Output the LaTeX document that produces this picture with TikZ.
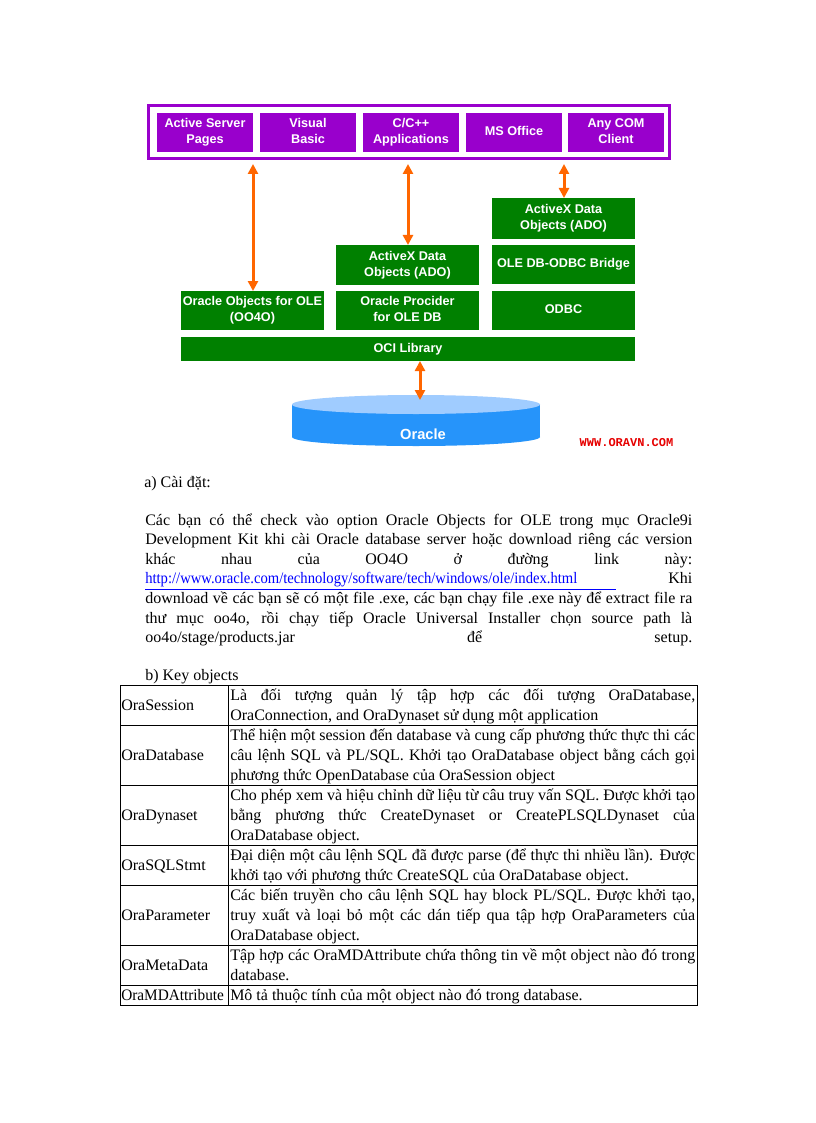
\documentclass[tikz,border=0pt]{standalone}
\usepackage{fontspec}
\setmainfont{Liberation Serif}
\newfontfamily\arialfont{Liberation Sans}
\newfontfamily\courfont{Liberation Mono}
\usetikzlibrary{arrows.meta}
\definecolor{purpC}{RGB}{153,0,204}
\definecolor{greenC}{RGB}{0,128,0}
\definecolor{orangeC}{RGB}{255,102,0}
\definecolor{dbtopC}{RGB}{160,204,255}
\definecolor{dbbodyC}{RGB}{38,148,250}
\definecolor{linkC}{RGB}{0,0,255}
\definecolor{wwwC}{RGB}{230,0,0}
\newcommand{\myjp}[1]{\makebox[410.25pt][s]{#1}}
\newcommand{\myjl}[1]{\makebox[348.75pt][s]{#1}}
\begin{document}
\begin{tikzpicture}[x=0.75pt,y=-0.75pt,
  diagbox/.style={inner sep=0pt, outer sep=0pt, text=white, align=center,
    font=\arialfont\bfseries\fontsize{9.5}{12}\selectfont},
  pbox/.style={diagbox, fill=purpC, minimum width=72pt, minimum height=29.25pt},
  gbox/.style={diagbox, fill=greenC, minimum width=107.25pt, minimum height=29.25pt},
  dbl/.style={draw=orangeC, line width=2.25pt,
    {Triangle[width=7.5pt,length=7.5pt]}-{Triangle[width=7.5pt,length=7.5pt]}},
  txt/.style={anchor=base west, inner sep=0pt, font=\fontsize{12}{14}\selectfont},
  tabline/.style={draw=black, line width=0.75pt}
]
\useasboundingbox[fill=white] (0,0) rectangle (816,1123);

% client layer
\node[draw=purpC, line width=2.25pt, inner sep=0pt, outer sep=0pt,
      minimum width=390.75pt, minimum height=39.75pt] (clients) at (409,132) {};
\node[pbox] (asp) at (205,132.5) {\strut Active Server\\\strut Pages};
\node[pbox] (vb)  at (308,132.5) {\strut Visual\\\strut Basic};
\node[pbox] (cpp) at (411,132.5) {\strut C/C++\\\strut Applications};
\node[pbox] (mso) at (514,132.5) {\strut MS Office};
\node[pbox] (com) at (616,132.5) {\strut Any COM\\\strut Client};

% middleware
\node[gbox, minimum height=30.75pt] (adoR) at (563.5,218.5) {\strut ActiveX Data\\\strut Objects (ADO)};
\node[gbox] (bridge) at (563.5,264.5) {\strut OLE DB-ODBC Bridge};
\node[gbox] (odbc)   at (563.5,310.5) {\strut ODBC};
\node[gbox, minimum height=30pt] (adoM) at (407.5,265) {\strut ActiveX Data\\\strut Objects (ADO)};
\node[gbox] (prov)   at (407.5,310.5) {\strut Oracle Procider\\\strut for OLE DB};
\node[gbox] (oo4o)   at (252.5,310.5) {\strut Oracle Objects for OLE\\\strut (OO4O)};
\node[gbox, minimum width=340.5pt, minimum height=18pt] (oci) at (408,349) {\strut OCI Library};

% database cylinder
\fill[dbbodyC] (416,437) ellipse [x radius=124, y radius=9];
\fill[dbbodyC] (292,404.5) rectangle (540,437);
\fill[dbtopC] (416,404.5) ellipse [x radius=124, y radius=9.5];
\node[inner sep=0pt, text=white, font=\arialfont\bfseries\fontsize{11}{13}\selectfont] (db) at (423,434) {Oracle};
\node[inner sep=0pt, text=wwwC, font=\courfont\bfseries\fontsize{9}{10}\selectfont] (www) at (626.5,443) {WWW.ORAVN.COM};

% arrows
\coordinate (c1) at (253,164);
\coordinate (c2) at (408,164);
\coordinate (c3) at (564,164);
\coordinate (c4) at (420,400);
\draw[dbl] (c1) -- (c1 |- oo4o.north);
\draw[dbl] (c2) -- (c2 |- adoM.north);
\draw[dbl] (c3) -- (c3 |- adoR.north);
\draw[dbl] (c4 |- oci.south) -- (c4);

% text
\node[txt] (ha) at (144,487) {a) Cài đặt:};
\node[txt] (p1) at (145,525) {\myjp{Các bạn có thể check vào option Oracle Objects for OLE trong mục Oracle9i}};
\node[txt] (p2) at (145,544.6) {\myjp{Development  Kit khi cài Oracle database server hoặc download riêng các version}};
\node[txt] (p3) at (145,564.2) {\myjp{khác nhau của OO4O ở đường link này:}};
\node[txt] (p4) at (145,583.8) {\myjp{{\color{linkC}\underline{\scalebox{0.915}[1]{http://www.oracle.com/technology/software/tech/windows/ole/index.html}\hspace{29pt}}} Khi}};
\node[txt] (p5) at (145,603.4) {\myjp{download về các bạn sẽ có một file .exe, các bạn chạy file .exe này để extract file ra}};
\node[txt] (p6) at (145,623) {\myjp{thư mục oo4o, rồi chạy tiếp Oracle Universal Installer chọn source path là}};
\node[txt] (p7) at (145,642.6) {\myjp{oo4o/stage/products.jar để setup.}};

\node[txt] (hb) at (145,680) {b) Key objects};

% table
\draw[tabline] (120,685) rectangle (697,1005);
\draw[tabline] (228,685) -- (228,1005);
\foreach \yy in {725,785,845,885,945,985} \draw[tabline] (120,\yy) -- (697,\yy);

\node[txt] (k1) at (121,710.5) {OraSession};
\node[txt] (k2) at (121,760.5) {OraDatabase};
\node[txt] (k3) at (121,820.5) {OraDynaset};
\node[txt] (k4) at (121,870.5) {OraSQLStmt};
\node[txt] (k5) at (121,920.5) {OraParameter};
\node[txt] (k6) at (121,970.5) {OraMetaData};
\node[txt] (k7) at (121,1000.5) {\scalebox{0.955}[1]{OraMDAttribute}};

\node[txt] (d1a) at (230,700.5) {\myjl{Là đối tượng quản lý tập hợp các đối tượng OraDatabase,}};
\node[txt] (d1b) at (230,720.5) {OraConnection, and OraDynaset sử dụng một application};
\node[txt] (d2a) at (230,740.5) {\myjl{Thể hiện một session đến database và cung cấp phương thức thực thi các}};
\node[txt] (d2b) at (230,760.5) {\myjl{câu lệnh SQL và PL/SQL. Khởi tạo OraDatabase object bằng cách gọi}};
\node[txt] (d2c) at (230,780.5) {phương thức OpenDatabase của OraSession object};
\node[txt] (d3a) at (230,800.5) {\myjl{Cho phép xem và hiệu chỉnh dữ liệu từ câu truy vấn SQL. Được khởi tạo}};
\node[txt] (d3b) at (230,820.5) {\myjl{bằng phương thức CreateDynaset or CreatePLSQLDynaset của}};
\node[txt] (d3c) at (230,840.5) {OraDatabase object.};
\node[txt] (d4a) at (230,860.5) {\myjl{Đại diện một câu lệnh SQL đã được parse (để thực thi nhiều lần). Được}};
\node[txt] (d4b) at (230,880.5) {khởi tạo với phương thức CreateSQL của OraDatabase object.};
\node[txt] (d5a) at (230,900.5) {\myjl{Các biến truyền cho câu lệnh SQL hay block PL/SQL. Được khởi tạo,}};
\node[txt] (d5b) at (230,920.5) {\myjl{truy xuất và loại bỏ một các dán tiếp qua tập hợp OraParameters của}};
\node[txt] (d5c) at (230,940.5) {OraDatabase object.};
\node[txt] (d6a) at (230,960.5) {\myjl{Tập hợp các OraMDAttribute  chứa thông tin về một object nào đó trong}};
\node[txt] (d6b) at (230,980.5) {database.};
\node[txt] (d7) at (230,1000.5) {Mô tả thuộc tính của một object nào đó trong database.};
\end{tikzpicture}
\end{document}
